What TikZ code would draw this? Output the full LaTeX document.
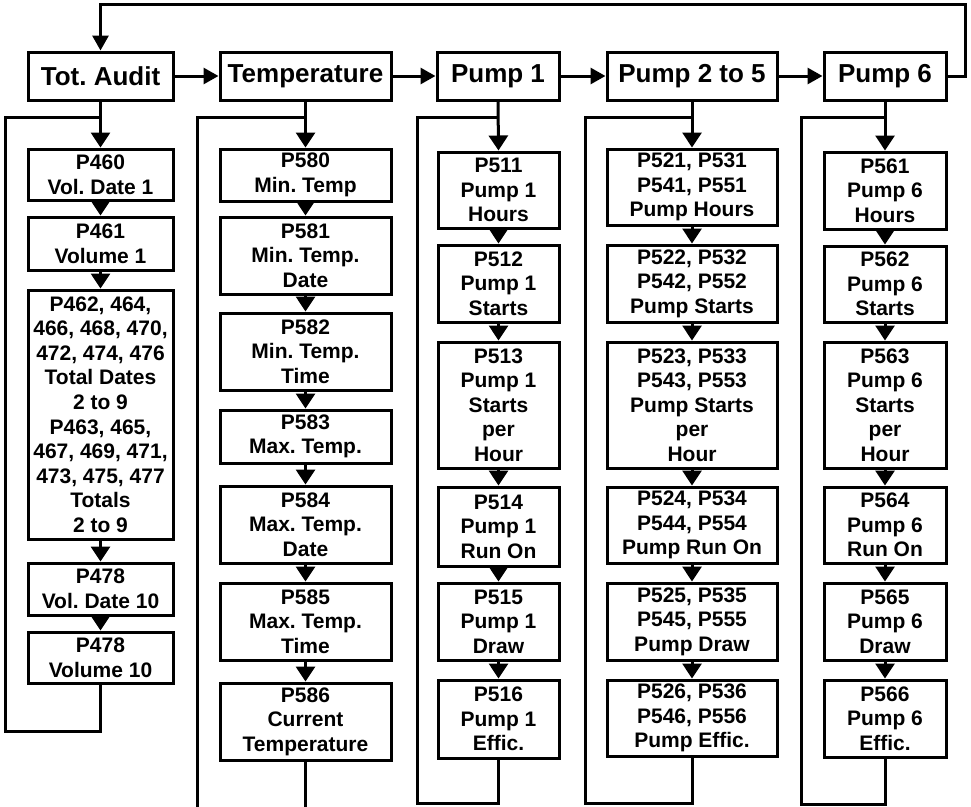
\documentclass[tikz,border=0pt]{standalone}
\usepackage{fontspec}
\setmainfont{Liberation Sans}
\usetikzlibrary{arrows.meta}
\begin{document}
\frenchspacing
\begin{tikzpicture}[x=1pt,y=-1pt,
  every path/.style={line width=3pt},
  hdr/.style={draw, line width=3pt, inner sep=0pt, align=center, minimum height=48pt,
    font=\fontsize{26}{30}\selectfont\bfseries\frenchspacing},
  sub/.style={draw, line width=3pt, inner sep=0pt, align=center,
    font=\fontsize{21}{24.6}\selectfont\bfseries\frenchspacing},
  cA/.style={sub, minimum width=145pt},
  cB/.style={sub, minimum width=171pt},
  cC/.style={sub, minimum width=121pt},
  cD/.style={sub, minimum width=170pt},
  cE/.style={sub, minimum width=122pt},
  harr/.style={-{Triangle[width=16pt,length=15pt]}},
  sarr/.style={-{Triangle[width=19pt,length=15pt]}},
]
\useasboundingbox (0,0) rectangle (971,806);

% headers
\node[hdr, minimum width=145pt] (a0) at (100.5,76) {Tot. Audit};
\node[hdr, minimum width=171pt] (b0) at (305.5,76) {Temperature};
\node[hdr, minimum width=122pt] (c0) at (498,76) {Pump 1};
\node[hdr, minimum width=170pt] (d0) at (692,76) {Pump 2 to 5};
\node[hdr, minimum width=122pt] (e0) at (885,76) {Pump 6};

% column A
\node[cA, minimum height=51pt] (a1) at (100.5,174.5) {P460\\Vol. Date 1};
\node[cA, minimum height=53pt] (a2) at (100.5,243.5) {P461\\Volume 1};
\node[cA, minimum height=249pt] (a3) at (100.5,414.5) {P462, 464,\\466, 468, 470,\\472, 474, 476\\Total Dates\\2 to 9\\P463, 465,\\467, 469, 471,\\473, 475, 477\\Totals\\2 to 9};
\node[cA, minimum height=52pt] (a4) at (100.5,589) {P478\\Vol. Date 10};
\node[cA, minimum height=51pt] (a5) at (100.5,657.5) {P478\\Volume 10};

% column B
\node[cB, minimum height=52pt] (b1) at (305.5,175) {P580\\Min. Temp};
\node[cB, minimum height=77pt] (b2) at (305.5,255.5) {P581\\Min. Temp.\\Date};
\node[cB, minimum height=77pt] (b3) at (305.5,351.5) {P582\\Min. Temp.\\Time};
\node[cB, minimum height=53pt] (b4) at (305.5,436.5) {P583\\Max. Temp.};
\node[cB, minimum height=77pt] (b5) at (305.5,524.5) {P584\\Max. Temp.\\Date};
\node[cB, minimum height=77pt] (b6) at (305.5,621.5) {P585\\Max. Temp.\\Time};
\node[cB, minimum height=77pt] (b7) at (305.5,721.5) {P586\\Current\\Temperature};

% column C
\node[cC, minimum height=76pt] (c1) at (498.5,190) {P511\\Pump 1\\Hours};
\node[cC, minimum height=77pt] (c2) at (498.5,283.5) {P512\\Pump 1\\Starts};
\node[cC, minimum height=126pt] (c3) at (498.5,405) {P513\\Pump 1\\Starts\\per\\Hour};
\node[cC, minimum height=79pt] (c4) at (498.5,526.5) {P514\\Pump 1\\Run On};
\node[cC, minimum height=77pt] (c5) at (498.5,621.5) {P515\\Pump 1\\Draw};
\node[cC, minimum height=78pt] (c6) at (498.5,719) {P516\\Pump 1\\Effic.};

% column D
\node[cD, minimum height=76pt] (d1) at (692,187) {P521, P531\\P541, P551\\Pump Hours};
\node[cD, minimum height=77pt] (d2) at (692,283.5) {P522, P532\\P542, P552\\Pump Starts};
\node[cD, minimum height=126pt] (d3) at (692,405) {P523, P533\\P543, P553\\Pump Starts\\per\\Hour};
\node[cD, minimum height=76pt] (d4) at (692,525) {P524, P534\\P544, P554\\Pump Run On};
\node[cD, minimum height=77pt] (d5) at (692,621.5) {P525, P535\\P545, P555\\Pump Draw};
\node[cD, minimum height=76pt] (d6) at (692,718) {P526, P536\\P546, P556\\Pump Effic.};

% column E
\node[cE, minimum height=77pt] (e1) at (885,190.5) {P561\\Pump 6\\Hours};
\node[cE, minimum height=76pt] (e2) at (885,284) {P562\\Pump 6\\Starts};
\node[cE, minimum height=126pt] (e3) at (885,405) {P563\\Pump 6\\Starts\\per\\Hour};
\node[cE, minimum height=76pt] (e4) at (885,525) {P564\\Pump 6\\Run On};
\node[cE, minimum height=77pt] (e5) at (885,621.5) {P565\\Pump 6\\Draw};
\node[cE, minimum height=77pt] (e6) at (885,718.5) {P566\\Pump 6\\Effic.};

% header chain
\draw[harr] (a0) -- (b0);
\draw[harr] (b0) -- (c0);
\draw[harr] (c0) -- (d0);
\draw[harr] (d0) -- (e0);
\coordinate (rtop) at (965,4);
\draw[harr] (e0.east) -| (rtop) -| (a0.north);

% column arrows
\foreach \c/\n in {a/5, b/7, c/6, d/6, e/6}{
  \draw[sarr] (\c0.south) -- (\c1.north);
  \foreach \i [evaluate=\i as \j using int(\i+1)] in {1,...,\n}{
    \ifnum\i<\n
      \draw[sarr] (\c\i.south) -- (\c\j.north);
    \fi
  }
}

% loops
\coordinate (ja) at (100.5,117); \coordinate (ka) at (5,731);
\draw (a5.south) |- (ka) |- (ja);
\coordinate (jb) at (305.5,117); \coordinate (kb) at (197,810); \coordinate (kb2) at (305.5,810);
\draw (jb) -| (kb);
\draw (b7.south) -- (kb2);
\coordinate (jc) at (498.5,117); \coordinate (kc) at (417,803);
\draw (c6.south) |- (kc) |- (jc);
\coordinate (jd) at (692,117); \coordinate (kd) at (585,803);
\draw (d6.south) |- (kd) |- (jd);
\coordinate (je) at (885,117); \coordinate (ke) at (801,804);
\draw (e6.south) |- (ke) |- (je);
\end{tikzpicture}
\end{document}
